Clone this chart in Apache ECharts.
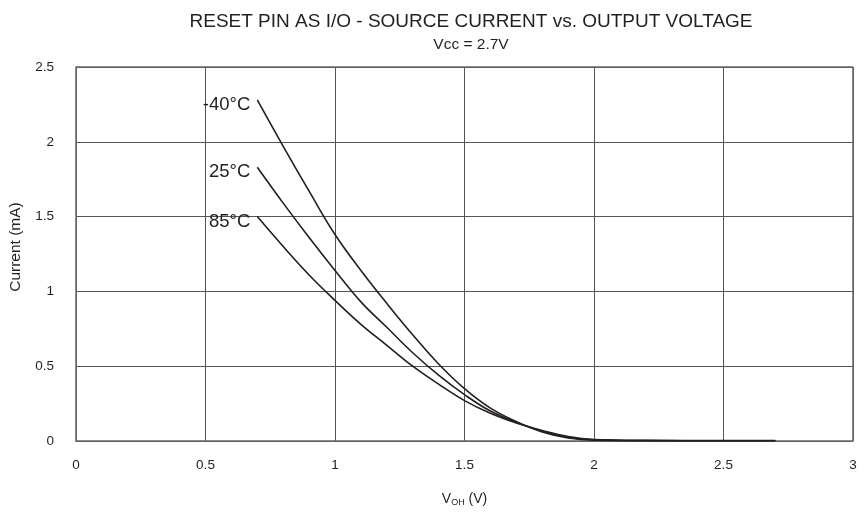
<!DOCTYPE html>
<html>
<head>
<meta charset="utf-8">
<script src="https://cdn.jsdelivr.net/npm/echarts@6/dist/echarts.min.js"></script>
<style>
  html, body { margin: 0; padding: 0; background: #fff; }
  #chart { width: 867px; height: 512px; }
</style>
</head>
<body>
<div id="chart"></div>
<script>
// voltage points (V) and source current (mA) per temperature
const vOH = [0.7, 0.8, 0.9, 1.0, 1.1, 1.2, 1.3, 1.4, 1.5, 1.6, 1.7, 1.8, 1.9, 2.0, 2.2, 2.5, 2.7]
const iM40 = [2.28, 1.97, 1.67, 1.38, 1.14, 0.92, 0.71, 0.515, 0.35, 0.22, 0.13, 0.06, 0.02, 0.005, 0.002, 0.002, 0.002]
const i25 = [1.83, 1.59, 1.36, 1.14, 0.93, 0.76, 0.59, 0.44, 0.31, 0.20, 0.125, 0.065, 0.025, 0.008, 0.003, 0.002, 0.002]
const i85 = [1.50, 1.30, 1.11, 0.94, 0.78, 0.64, 0.50, 0.38, 0.27, 0.185, 0.12, 0.07, 0.03, 0.01, 0.004, 0.003, 0.003]
const tempLabels = ['-40°C', '25°C', '85°C']

const font = 'Liberation Sans, Arial, sans-serif'
const ink = '#231f20'

function mkSeries(vals, label) {
  return {
    type: 'line', smooth: 0.4, symbol: 'none',
    lineStyle: { width: 1.6, color: ink },
    data: vals.map((v, i) => i === 0
      ? { value: [vOH[i], v], symbol: 'circle', symbolSize: 0,
          label: { show: true, position: 'left', distance: 7, offset: [0, 5], formatter: label,
                   fontSize: 18.5, color: ink, fontFamily: font } }
      : [vOH[i], v])
  }
}

const chart = echarts.init(document.getElementById('chart'))
chart.setOption({
  animation: false,
  title: {
    text: 'RESET PIN AS I/O - SOURCE CURRENT vs. OUTPUT VOLTAGE',
    subtext: 'Vcc = 2.7V',
    left: 466, top: 7, textAlign: 'center', itemGap: 6,
    textStyle: { fontSize: 19, fontWeight: 'normal', color: ink, fontFamily: font },
    subtextStyle: { fontSize: 15.5, color: ink, fontFamily: font }
  },
  grid: { left: 75, right: 14, top: 67, bottom: 71 },
  xAxis: {
    type: 'value', min: 0, max: 3, interval: 0.5,
    name: '{v|V}{s|OH}{v| (V)}', nameLocation: 'middle', nameGap: 50,
    nameTextStyle: { rich: {
      v: { fontSize: 14, color: ink, fontFamily: font },
      s: { fontSize: 9, color: ink, fontFamily: font, verticalAlign: 'bottom', padding: [7, 0, 0, 0] }
    } },
    axisLine: { lineStyle: { color: '#666', width: 1.5 } },
    axisTick: { show: false },
    axisLabel: { fontSize: 13.5, color: ink, fontFamily: font, margin: 17 },
    splitLine: { show: true, lineStyle: { color: '#555', width: 1 } }
  },
  yAxis: {
    type: 'value', min: 0, max: 2.5, interval: 0.5,
    name: 'Current (mA)', nameLocation: 'middle', nameGap: 52,
    nameTextStyle: { fontSize: 15.5, color: ink, fontFamily: font, padding: [0, 0, 0, 14] },
    axisLine: { show: true, lineStyle: { color: '#666', width: 1.5 } },
    axisTick: { show: false },
    axisLabel: { fontSize: 13.5, color: ink, fontFamily: font, margin: 22 },
    splitLine: { show: true, lineStyle: { color: '#555', width: 1 } }
  },
  series: [
    mkSeries(iM40, tempLabels[0]),
    mkSeries(i25, tempLabels[1]),
    mkSeries(i85, tempLabels[2]),
    // border on the top/right of the plot
    { type: 'line', data: [], markLine: { silent: true, symbol: 'none', label: { show: false },
      lineStyle: { color: '#666', width: 1.5, type: 'solid' },
      data: [{ yAxis: 2.5 }, { xAxis: 3 }] } }
  ]
})
</script>
</body>
</html>
